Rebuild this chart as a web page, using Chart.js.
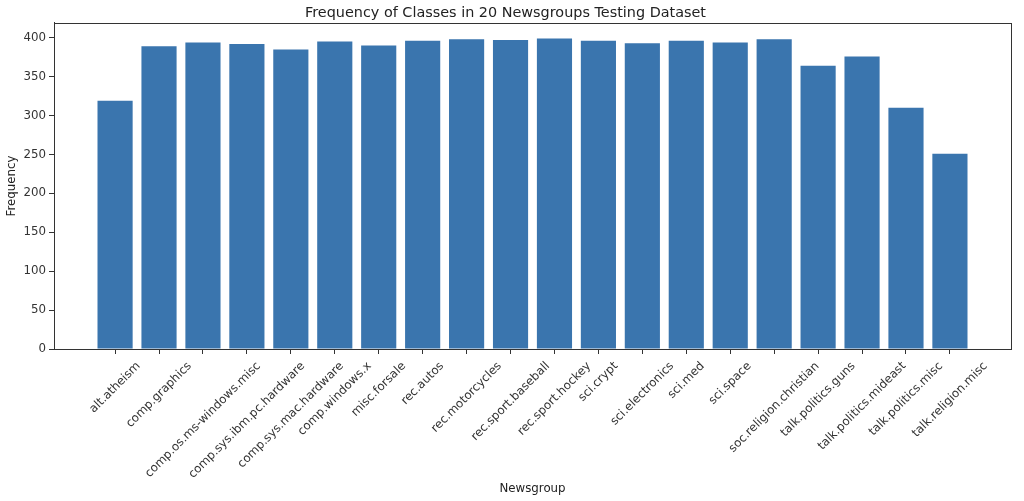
<!DOCTYPE html>
<html>
<head>
<meta charset="utf-8">
<script src="https://cdn.jsdelivr.net/npm/chart.js@4.4.0/dist/chart.umd.min.js"></script>
<style>
html,body{margin:0;padding:0;background:#fff;}
#wrap{width:1024px;height:501px;position:relative;}
</style>
</head>
<body>
<div id="wrap"><canvas id="c" width="1024" height="501"></canvas></div>
<script>
const categories = ["alt.atheism","comp.graphics","comp.os.ms-windows.misc","comp.sys.ibm.pc.hardware","comp.sys.mac.hardware","comp.windows.x","misc.forsale","rec.autos","rec.motorcycles","rec.sport.baseball","rec.sport.hockey","sci.crypt","sci.electronics","sci.med","sci.space","soc.religion.christian","talk.politics.guns","talk.politics.mideast","talk.politics.misc","talk.religion.misc"];
const frequencies = [319,389,394,392,385,395,390,396,398,397,399,396,393,396,394,398,364,376,310,251];
const yTicks = [0,50,100,150,200,250,300,350,400];
const titleText = "Frequency of Classes in 20 Newsgroups Testing Dataset";
const xLabel = "Newsgroup";
const yLabel = "Frequency";

const FONT = "'DejaVu Sans', sans-serif";
const TICK_SIZE = 11.8;
const TEXT_COLOR = "#333";
const SPINE = "#333";

const points = frequencies.map((v,i)=>({x:i,y:v}));
const n = categories.length;
const xMargin = (n - 1 + 0.8) * 0.05;
const yMax = Math.max(...frequencies) * 1.05;

const labelPlugin = {
  id:'mplLabels',
  afterDraw(chart){
    const ctx = chart.ctx;
    const xs = chart.scales.x;
    const ca = chart.chartArea;
    ctx.save();
    ctx.strokeStyle = SPINE;
    ctx.lineWidth = 1;
    ctx.strokeRect(Math.round(ca.left)+0.5, Math.round(ca.top)+0.5, Math.round(ca.right-ca.left), Math.round(ca.bottom-ca.top));
    ctx.font = TICK_SIZE + "px " + FONT;
    ctx.fillStyle = TEXT_COLOR;
    ctx.textAlign = 'right';
    ctx.textBaseline = 'top';
    const c = Math.SQRT1_2;
    const h = TICK_SIZE;
    categories.forEach((lab,i)=>{
      const px = xs.getPixelForValue(i);
      const w = ctx.measureText(lab).width;
      ctx.save();
      ctx.translate(px + (w - h) * c / 2, ca.bottom + 11);
      ctx.rotate(-Math.PI/4);
      ctx.fillText(lab, 0, 0);
      ctx.restore();
    });
    ctx.restore();
  }
};

new Chart(document.getElementById('c'), {
  type:'bar',
  data:{
    datasets:[{
      data: points,
      backgroundColor:'#3a75ae',
      borderWidth:0,
      barPercentage:0.8,
      categoryPercentage:1.0
    }]
  },
  options:{
    responsive:false,
    animation:false,
    devicePixelRatio:1,
    layout:{padding:{top:0,left:0,right:13,bottom:0}},
    plugins:{
      legend:{display:false},
      tooltip:{enabled:false},
      title:{
        display:true,
        text:titleText,
        color:'#222',
        font:{family:FONT,size:14.4,weight:'normal'},
        padding:{top:5,bottom:0.7}
      }
    },
    scales:{
      x:{
        type:'linear',
        offset:false,
        min:-0.4 - xMargin,
        max:n - 1 + 0.4 + xMargin,
        afterBuildTicks(scale){ scale.ticks = categories.map((c,i)=>({value:i})); },
        afterFit(scale){ scale.height = 152; scale.paddingLeft = 0; scale.paddingRight = 0; },
        ticks:{ callback:()=>'', maxRotation:0, minRotation:0, autoSkip:false },
        grid:{ display:true, offset:false, drawOnChartArea:false, drawTicks:true, tickLength:5, color:SPINE, tickColor:SPINE },
        border:{ display:true, color:SPINE },
        title:{ display:true, text:xLabel, color:'#222', font:{family:FONT,size:11.8}, padding:{top:0,bottom:4.5} }
      },
      y:{
        min:0,
        max:yMax,
        afterBuildTicks(scale){ scale.ticks = yTicks.map(v=>({value:v})); },
        afterFit(scale){ scale.width = 54; },
        ticks:{ color:TEXT_COLOR, font:{family:FONT,size:TICK_SIZE}, padding:3 },
        grid:{ display:true, drawOnChartArea:false, drawTicks:true, tickLength:5, color:SPINE, tickColor:SPINE },
        border:{ display:true, color:SPINE },
        title:{ display:true, text:yLabel, color:'#222', font:{family:FONT,size:11.8}, padding:{top:5,bottom:0} }
      }
    }
  },
  plugins:[labelPlugin]
});
</script>
</body>
</html>
